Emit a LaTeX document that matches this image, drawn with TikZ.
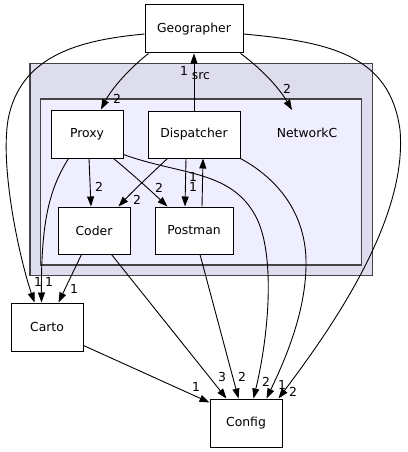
\documentclass[tikz,border=0pt]{standalone}
\usepackage{fontspec}
\setmainfont{DejaVu Sans}
\usetikzlibrary{arrows.meta}
\definecolor{outerfill}{HTML}{DDDDEE}
\definecolor{innerfill}{HTML}{EEEEFF}
\definecolor{clusterline}{HTML}{444444}
\begin{document}
\begin{tikzpicture}[x=1pt,y=-1pt,
  every node/.style={font=\fontsize{12.4}{14}\selectfont},
  box/.style={draw=black, fill=white, line width=1pt, inner sep=0pt},
  cluster/.style={fill=#1, draw=clusterline, line width=1.5pt},
  edge/.style={draw=black, line width=0.9pt, -{Triangle[length=10pt,width=7pt]}},
  elabel/.style={inner sep=0pt}
]
\useasboundingbox (0,0) rectangle (407,452);
% clusters
\filldraw[cluster=outerfill] (30,63.5) rectangle (372.5,275.5);
\filldraw[cluster=innerfill] (40.5,99) rectangle (361.5,265);
\node[inner sep=0pt] (srclbl) at (201,76) {src};
\node[inner sep=0pt] (netclbl) at (307,133) {NetworkC};
\coordinate (netc) at (292,110);
% nodes
\node[box, minimum width=98pt, minimum height=48pt] (geo) at (194,29) {Geographer};
\node[box, minimum width=72pt, minimum height=48pt] (proxy) at (87,134) {Proxy};
\node[box, minimum width=92pt, minimum height=47pt] (disp) at (194,134.5) {Dispatcher};
\node[box, minimum width=72pt, minimum height=47pt] (coder) at (94,230.5) {Coder};
\node[box, minimum width=78pt, minimum height=47pt] (postman) at (194,230.5) {Postman};
\node[box, minimum width=72pt, minimum height=48pt] (carto) at (47,327) {Carto};
\node[box, minimum width=72pt, minimum height=48pt] (config) at (246,423) {Config};
% edges
\draw[edge] ([xshift=4pt]geo.south west) .. controls (130,68) and (112,88) .. ([xshift=14pt]proxy.north);
\draw[edge] ([xshift=-3pt]geo.south east) .. controls (258,66) and (278,86) .. (netc);
\draw[edge] (disp.north) -- (geo.south);
\draw[edge] ([yshift=-5pt]geo.west) .. controls (80,40) and (20,55) .. (8,120) .. controls (0,170) and (20,260) .. ([xshift=24pt]carto.north west);
\draw[edge] ([yshift=-5pt]geo.east) .. controls (330,42) and (390,55) .. (400,130) .. controls (408,220) and (330,330) .. ([xshift=-4pt]config.north east);
\draw[edge] ([xshift=2pt]proxy.south) -- ([xshift=-3pt]coder.north);
\draw[edge] ([xshift=-10pt]proxy.south east) .. controls (130,172) and (150,190) .. ([xshift=13pt]postman.north west);
\draw[edge] ([xshift=18pt]proxy.south west) .. controls (50,188) and (41,220) .. ([xshift=31pt]carto.north west);
\draw[edge] ([yshift=4pt]proxy.south east) .. controls (180,175) and (230,170) .. (255,215) .. controls (275,250) and (270,330) .. ([xshift=44pt]config.north west);
\draw[edge] ([xshift=20pt]disp.south west) .. controls (152,173) and (132,192) .. ([xshift=-12pt]coder.north east);
\draw[edge] ([xshift=-8pt]disp.south) -- ([xshift=-9pt]postman.north);
\draw[edge] ([xshift=8pt]postman.north) -- ([xshift=9pt]disp.south);
\draw[edge] (disp.south east) .. controls (280,180) and (305,215) .. (306,260) .. controls (307,310) and (285,360) .. ([xshift=57pt]config.north west);
\draw[edge] ([xshift=24pt]coder.south west) -- ([xshift=48pt]carto.north west);
\draw[edge] ([xshift=54pt]coder.south west) -- ([xshift=17pt]config.north west);
\draw[edge] ([xshift=6pt]postman.south) -- ([xshift=29pt]config.north west);
\draw[edge] ([yshift=6pt]carto.south east) -- ([yshift=-4pt]config.north west);
% edge labels
\node[elabel] (l1) at (117,99) {2};
\node[elabel] (l2) at (287,89) {2};
\node[elabel] (l3) at (184,71) {1};
\node[elabel] (l4) at (99,187) {2};
\node[elabel] (l5) at (159,188) {2};
\node[elabel] (l6) at (137,200) {2};
\node[elabel] (l7) at (193,187) {1};
\node[elabel] (l8) at (193,177) {1};
\node[elabel] (l9) at (38,282) {1};
\node[elabel] (l10) at (49,282) {1};
\node[elabel] (l11) at (74,289) {1};
\node[elabel] (l12) at (196,387) {1};
\node[elabel] (l13) at (222,377) {3};
\node[elabel] (l14) at (242,377) {2};
\node[elabel] (l15) at (266,382) {2};
\node[elabel] (l16) at (282,385) {1};
\node[elabel] (l17) at (293,392) {2};
\end{tikzpicture}
\end{document}
